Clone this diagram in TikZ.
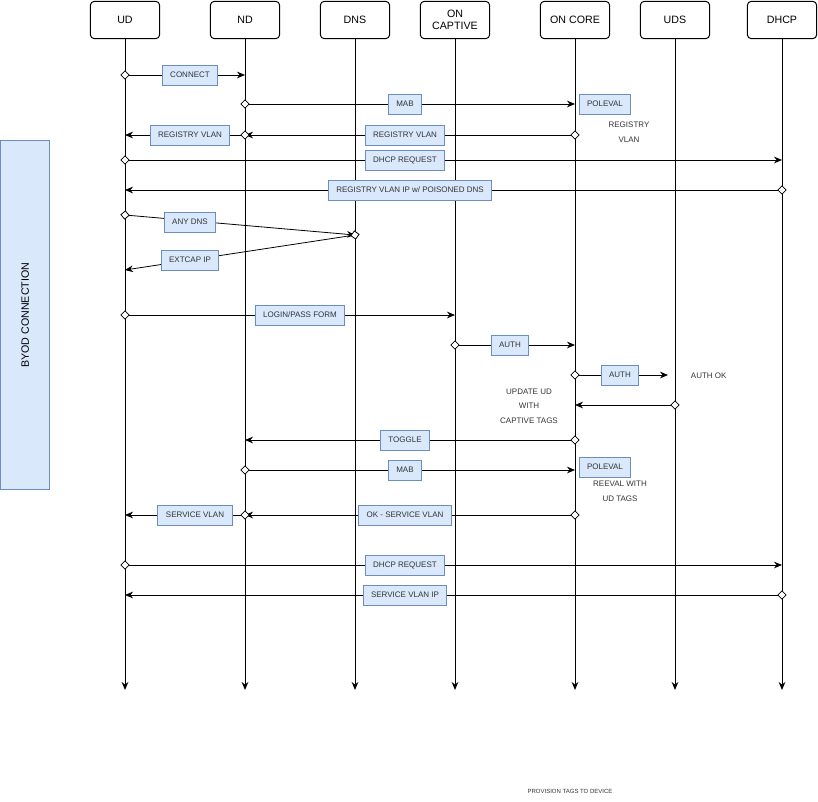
\documentclass[tikz,border=0pt]{standalone}
\usepackage{fontspec}
\setmainfont{Liberation Sans}
\usetikzlibrary{arrows.meta}
\tikzset{every picture/.style={line width=0.75pt}}
\definecolor{lblfill}{HTML}{DAE8FC}
\definecolor{lbldraw}{HTML}{6C8EBF}
\definecolor{txtgray}{HTML}{333333}

\begin{document}
\begin{tikzpicture}[x=0.75pt,y=0.75pt,yscale=-1,xscale=1,
	head/.style={draw,rounded corners=3pt,minimum width=52pt,minimum height=28pt,align=center,font=\fontsize{8}{9}\selectfont},
	life/.style={-{Stealth[length=6pt,width=5pt]}},
	msg/.style={{Diamond[open,length=7pt,width=7pt,fill=white]}-{Stealth[length=6pt,width=5pt]},line width=0.6pt,shorten <=-3.5pt},
	lbl/.style={draw=lbldraw,fill=lblfill,minimum height=15pt,inner xsep=6pt,inner ysep=1pt,text=txtgray,font=\fontsize{6}{7}\selectfont},
	note/.style={align=center,text=txtgray,font=\fontsize{6}{11}\selectfont}]
	\useasboundingbox (0,0) rectangle (818,801);

	% Heads
	\node[head] (ud) at (125,20) {UD};
	\node[head] (nd) at (245,20) {ND};
	\node[head] (dns) at (355,20) {DNS};
	\node[head] (cap) at (455,20) {ON\\CAPTIVE};
	\node[head] (core) at (575,20) {ON CORE};
	\node[head] (uds) at (675,20) {UDS};
	\node[head] (dhcp) at (782,20) {DHCP};

	% Lifelines
	\foreach \h in {ud,nd,dns,cap,core,uds,dhcp}
		\draw[life] (\h.south) -- (\h |- 0,690);

	% Side box
	\node[draw=lbldraw,fill=lblfill,minimum width=37pt,minimum height=262pt,anchor=north west] (byod) at (0,140) {};
	\node[rotate=90,font=\fontsize{8}{9}\selectfont] at (byod.center) {BYOD CONNECTION};

	% Messages
	\draw[msg] (ud |- 0,75) -- (nd |- 0,75);
	\node[lbl] at (190,75) {CONNECT};

	\draw[msg] (nd |- 0,104) -- (core |- 0,104);
	\node[lbl] at (405,104) {MAB};
	\node[lbl] at (605,104) {POLEVAL};
	\node[note] at (629,132) {REGISTRY\\VLAN};

	\draw[msg] (core |- 0,135) -- (nd |- 0,135);
	\node[lbl] at (405,135) {REGISTRY VLAN};
	\draw[msg] (nd |- 0,135) -- (ud |- 0,135);
	\node[lbl] at (190,135) {REGISTRY VLAN};

	\draw[msg] (ud |- 0,160) -- (dhcp |- 0,160);
	\node[lbl] at (405,160) {DHCP REQUEST};

	\draw[msg] (dhcp |- 0,190) -- (ud |- 0,190);
	\node[lbl] at (410,190) {REGISTRY VLAN IP w/ POISONED DNS};

	\draw[msg] (ud |- 0,215) -- (dns |- 0,235);
	\node[lbl] at (190,222) {ANY DNS};
	\draw[msg] (dns |- 0,235) -- (ud |- 0,270);
	\node[lbl] at (190,260) {EXTCAP IP};

	\draw[msg] (ud |- 0,315) -- (cap |- 0,315);
	\node[lbl] at (300,315) {LOGIN/PASS FORM};

	\draw[msg] (cap |- 0,345) -- (core |- 0,345);
	\node[lbl] at (510,345) {AUTH};

	\coordinate (authok) at (668,375);
	\draw[msg] (core |- 0,375) -- (authok);
	\node[lbl] at (620,375) {AUTH};
	\node[note,anchor=west] at (686,376) {AUTH OK};

	\draw[msg] (uds |- 0,405) -- (core |- 0,405);
	\node[note] at (529,406) {UPDATE UD\\WITH\\CAPTIVE TAGS};

	\draw[msg] (core |- 0,440) -- (nd |- 0,440);
	\node[lbl] at (405,440) {TOGGLE};

	\draw[msg] (nd |- 0,470) -- (core |- 0,470);
	\node[lbl] at (405,470) {MAB};
	\node[lbl] at (605,467) {POLEVAL};
	\node[note] at (620,491) {REEVAL WITH\\UD TAGS};

	\draw[msg] (core |- 0,515) -- (nd |- 0,515);
	\node[lbl] at (405,515) {OK - SERVICE VLAN};
	\draw[msg] (nd |- 0,515) -- (ud |- 0,515);
	\node[lbl] at (195,515) {SERVICE VLAN};

	\draw[msg] (ud |- 0,565) -- (dhcp |- 0,565);
	\node[lbl] at (405,565) {DHCP REQUEST};

	\draw[msg] (dhcp |- 0,595) -- (ud |- 0,595);
	\node[lbl] at (405,595) {SERVICE VLAN IP};

	\node[text=txtgray,font=\fontsize{4.5}{5}\selectfont] at (570,791) {PROVISION TAGS TO DEVICE};
\end{tikzpicture}
\end{document}
